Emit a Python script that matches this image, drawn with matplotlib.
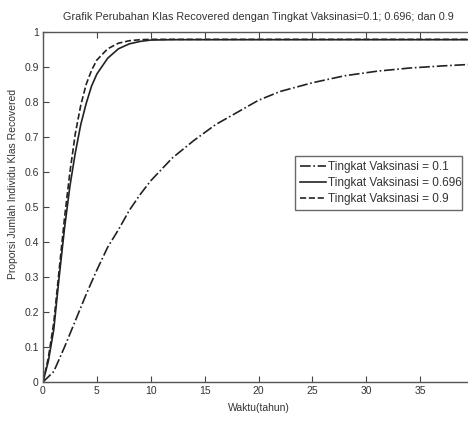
import numpy as np
import matplotlib.pyplot as plt

# values
t_low = [0, 1, 2, 3, 4, 5, 6, 7, 8, 9, 10, 12, 14, 16, 18, 20, 22, 25, 28, 31, 34, 37, 40]
r_low = [0, 0.03, 0.10, 0.175, 0.25, 0.32, 0.385, 0.435, 0.49, 0.535, 0.575,
         0.64, 0.69, 0.735, 0.77, 0.805, 0.83, 0.855, 0.875, 0.888, 0.897, 0.903, 0.908]

t_fast = [0, 0.5, 1, 1.5, 2, 2.5, 3, 3.5, 4, 4.5, 5, 6, 7, 8, 9, 10, 12, 40]
r_mid = [0, 0.06, 0.15, 0.30, 0.44, 0.56, 0.655, 0.735, 0.795, 0.845, 0.88,
         0.925, 0.952, 0.966, 0.973, 0.977, 0.978, 0.978]
r_high = [0, 0.07, 0.17, 0.32, 0.47, 0.60, 0.71, 0.79, 0.85, 0.89, 0.92,
          0.952, 0.968, 0.975, 0.978, 0.979, 0.979, 0.979]

labels = ["Tingkat Vaksinasi = 0.1", "Tingkat Vaksinasi = 0.696", "Tingkat Vaksinasi = 0.9"]

plt.rcParams['font.family'] = ['Liberation Sans', 'DejaVu Sans']

fig = plt.figure(figsize=(4.68, 4.21), dpi=100)
ax = fig.add_axes([43 / 468, 39 / 421, 431 / 468, 350 / 421])

ax.plot(t_low, r_low, '-.', color='#222222', lw=1.2, label=labels[0])
ax.plot(t_fast, r_mid, '-', color='#222222', lw=1.2, label=labels[1])
ax.plot(t_fast, r_high, '--', color='#222222', lw=1.2, label=labels[2])

ax.set_xlim(0, 40)
ax.set_ylim(0, 1)
ax.set_xticks(np.arange(0, 41, 5))
ax.set_xticklabels(['0', '5', '10', '15', '20', '25', '30', '35', ''])
ax.set_yticks(np.arange(0, 1.01, 0.1))
ax.set_yticklabels(['0', '0.1', '0.2', '0.3', '0.4', '0.5', '0.6', '0.7', '0.8', '0.9', '1'])
ax.tick_params(direction='in', top=True, right=True, length=4, width=0.8,
               colors='#444444', labelsize=7.5, labelcolor='#333333', pad=3)
for s in ax.spines.values():
    s.set_color('#555555')
    s.set_linewidth(1.0)

ax.set_title("Grafik Perubahan Klas Recovered dengan Tingkat Vaksinasi=0.1; 0.696; dan 0.9",
             fontsize=7.8, color='#333333', pad=9)
ax.set_xlabel("Waktu(tahun)", fontsize=7.5, color='#333333', labelpad=5)
ax.set_ylabel("Proporsi Jumlah Individu Klas Recovered", fontsize=7.5, color='#333333')
ax.yaxis.set_label_coords(-0.058, 0.566)

leg = ax.legend(loc='lower left', bbox_to_anchor=(0.585, 0.491, 0.387, 0.192), mode='expand',
                fontsize=8.5, fancybox=False, edgecolor='#444444', handlelength=2.2,
                handletextpad=0.2, borderpad=0.4, labelspacing=0.35, borderaxespad=0)
leg.get_frame().set_linewidth(1.0)
for txt in leg.get_texts():
    txt.set_color('#333333')

fig.savefig("out.png", dpi=100)
